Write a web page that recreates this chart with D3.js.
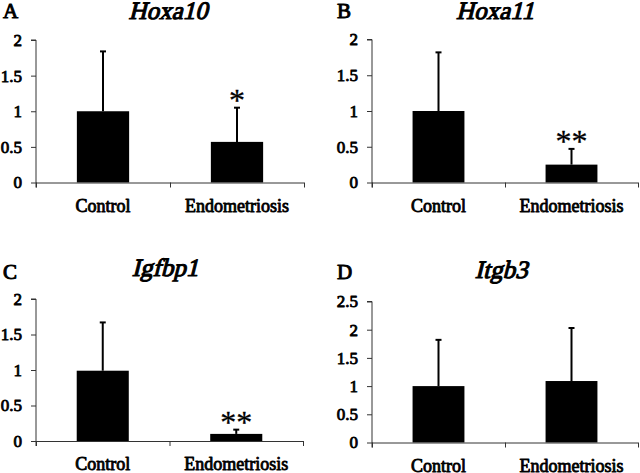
<!DOCTYPE html>
<html>
<head>
<meta charset="utf-8">
<script src="https://cdn.jsdelivr.net/npm/d3@7"></script>
<style>
  html, body { margin: 0; padding: 0; background: #fff; }
  svg { display: block; }
</style>
</head>
<body>
<svg id="chart" width="640" height="473"></svg>
<script>
// ---- data ----
const panelLetters = ["A", "B", "C", "D"];
const genes = ["Hoxa10", "Hoxa11", "Igfbp1", "Itgb3"];
const categories = ["Control", "Endometriosis"];
const controlMeans = [1.00, 1.00, 0.99, 1.00];
const endoMeans = [0.57, 0.25, 0.10, 1.09];
const controlSD = [0.84, 0.82, 0.68, 0.82];
const endoSD = [0.48, 0.22, 0.06, 0.94];
const significance = ["*", "**", "**", ""];
const yMaxes = [2, 2, 2, 2.5];
const yTickLists = [
  [0, 0.5, 1, 1.5, 2],
  [0, 0.5, 1, 1.5, 2],
  [0, 0.5, 1, 1.5, 2],
  [0, 0.5, 1, 1.5, 2, 2.5]
];

// ---- layout (positions only) ----
const layout = [
  { left: 36, right: 304, top: 40, bottom: 182.5, titleX: 168, titleY: 18.5, letterX: 3, letterY: 18 },
  { left: 372, right: 638, top: 39.5, bottom: 182.5, titleX: 495, titleY: 18.5, letterX: 337, letterY: 18 },
  { left: 36, right: 303, top: 299, bottom: 441, titleX: 165, titleY: 276, letterX: 3, letterY: 279 },
  { left: 372, right: 638, top: 301.5, bottom: 442.5, titleX: 501, titleY: 278, letterX: 337, letterY: 279 }
];

const FONT = "Liberation Serif";
const BOLD_STROKE = 0.85;
const svg = d3.select("#chart");
const axisColor = "#333";

function boldify(sel, w) {
  return sel.attr("font-family", FONT).attr("font-weight", "normal")
    .attr("fill", "#000").attr("stroke", "#000")
    .attr("stroke-width", w == null ? BOLD_STROKE : w)
    .attr("stroke-linejoin", "round");
}

genes.forEach((gene, i) => {
  const L = layout[i];
  const g = svg.append("g");
  const x = d3.scaleBand().domain(categories).range([L.left, L.right]).padding(0);
  const y = d3.scaleLinear().domain([0, yMaxes[i]]).range([L.bottom, L.top]);
  const barW = x.bandwidth() * 0.39;

  const rows = categories.map((c, k) => ({
    cat: c,
    mean: k === 0 ? controlMeans[i] : endoMeans[i],
    sd: k === 0 ? controlSD[i] : endoSD[i]
  }));

  // panel letter
  boldify(g.append("text")
    .attr("x", L.letterX).attr("y", L.letterY)
    .attr("font-size", 21), 1.0)
    .text(panelLetters[i]);

  // title (serif with slant)
  boldify(g.append("text")
    .attr("transform", `translate(${L.titleX},${L.titleY}) skewX(-14)`)
    .attr("x", 0).attr("y", 0)
    .attr("text-anchor", "middle")
    .attr("font-size", 25), 1.1)
    .text(gene);

  // y axis
  const yAxis = d3.axisLeft(y).tickValues(yTickLists[i]).tickSize(5).tickPadding(9)
    .tickFormat(d => String(d));
  const ya = g.append("g").attr("transform", `translate(${L.left},0)`).call(yAxis)
    .attr("font-family", FONT);
  ya.select(".domain").attr("stroke", axisColor).attr("d", `M-5,${L.top}H0V${L.bottom + 5}`);
  ya.selectAll(".tick line").attr("stroke", axisColor);
  boldify(ya.selectAll(".tick text").attr("font-size", 17));

  // error bars (upper only)
  rows.forEach(r => {
    const cx = x(r.cat) + x.bandwidth() / 2;
    g.append("line")
      .attr("x1", cx).attr("x2", cx)
      .attr("y1", y(r.mean)).attr("y2", y(r.mean + r.sd))
      .attr("stroke", "#000").attr("stroke-width", 2);
    g.append("line")
      .attr("x1", cx - 3).attr("x2", cx + 3)
      .attr("y1", y(r.mean + r.sd)).attr("y2", y(r.mean + r.sd))
      .attr("stroke", "#000").attr("stroke-width", 2);
  });

  // bars
  g.selectAll("rect.bar").data(rows).enter().append("rect")
    .attr("class", "bar")
    .attr("x", d => x(d.cat) + (x.bandwidth() - barW) / 2)
    .attr("y", d => y(d.mean))
    .attr("width", barW)
    .attr("height", d => y(0) - y(d.mean))
    .attr("fill", "#000");

  // x axis
  g.append("line")
    .attr("x1", L.left).attr("x2", L.right)
    .attr("y1", y(0) + 0.5).attr("y2", y(0) + 0.5)
    .attr("stroke", axisColor);
  const bounds = [L.left, x(categories[1]), L.right];
  bounds.forEach(b => {
    g.append("line")
      .attr("x1", b + 0.5).attr("x2", b + 0.5)
      .attr("y1", y(0)).attr("y2", y(0) + 5)
      .attr("stroke", axisColor);
  });

  // category labels
  categories.forEach(c => {
    boldify(g.append("text")
      .attr("x", x(c) + x.bandwidth() / 2)
      .attr("y", y(0) + 29)
      .attr("text-anchor", "middle")
      .attr("font-size", 18))
      .text(c);
  });

  // significance
  if (significance[i]) {
    const r = rows[1];
    g.append("text")
      .attr("x", x(r.cat) + x.bandwidth() / 2)
      .attr("y", y(r.mean + r.sd) - 13 + 16)
      .attr("text-anchor", "middle")
      .attr("font-family", FONT)
      .attr("font-size", 32)
      .attr("stroke", "#000").attr("stroke-width", 0.3)
      .text(significance[i]);
  }
});
</script>
</body>
</html>
